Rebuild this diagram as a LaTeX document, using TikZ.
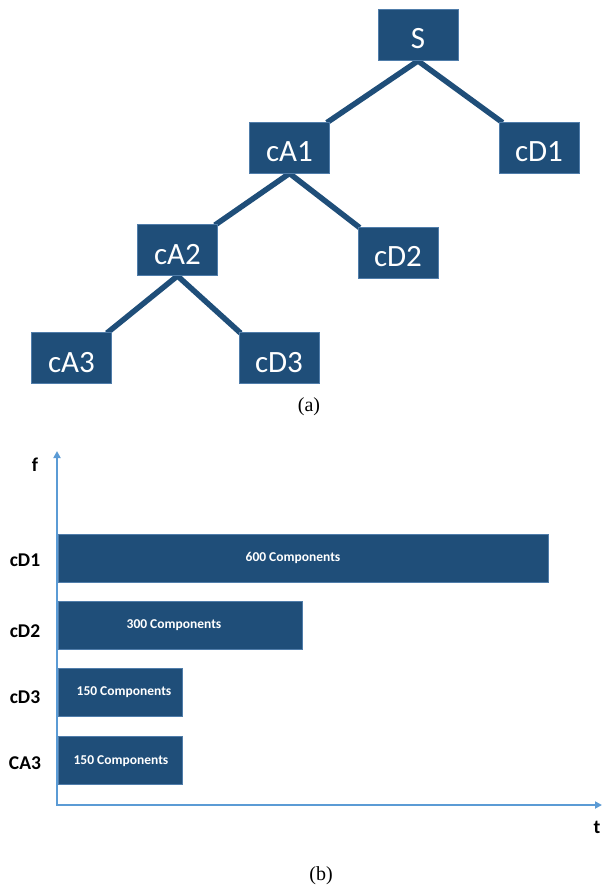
\documentclass[tikz,border=0pt]{standalone}
\usepackage{fontspec}
\setmainfont{Carlito}
\newfontfamily\capfont{Liberation Serif}
\usetikzlibrary{arrows.meta,backgrounds}
\definecolor{boxblue}{RGB}{31,78,121}
\definecolor{boxedge}{RGB}{80,125,170}
\definecolor{axisblue}{RGB}{91,155,213}
\tikzset{
  treebox/.style={rectangle, fill=boxblue, draw=boxedge, line width=0.8pt,
    minimum width=80pt, minimum height=51pt, inner sep=0pt, text=white,
    text height=28pt, text depth=0pt, font=\fontsize{31}{31}\selectfont},
  treeedge/.style={draw=boxblue, line width=5.5pt},
  barbox/.style={rectangle, fill=boxblue, draw=boxedge, line width=0.8pt,
    minimum height=48pt, inner sep=0pt, anchor=west},
  bartext/.style={text=white, font=\bfseries\fontsize{13.5}{13.5}\selectfont, inner sep=0pt},
  axislabel/.style={text=black, font=\bfseries\fontsize{19.5}{19.5}\selectfont, inner sep=0pt},
  axisline/.style={draw=axisblue, line width=2.8pt, line join=miter},
  caption/.style={font=\capfont\fontsize{20}{20}\selectfont, inner sep=0pt}
}
\begin{document}
\begin{tikzpicture}[x=1pt,y=-1pt]
\useasboundingbox (0,0) rectangle (602,888);
% tree
\node[treebox] (S)   at (418,35)    {S};
\node[treebox] (cA1) at (289.5,147.5) {cA1};
\node[treebox] (cD1) at (539,147.5) {cD1};
\node[treebox] (cA2) at (177.5,250) {cA2};
\node[treebox] (cD2) at (398,252.5) {cD2};
\node[treebox] (cA3) at (71.5,358)  {cA3};
\node[treebox] (cD3) at (279,358)   {cD3};
\begin{scope}[on background layer]
\draw[treeedge] (S.south) -- ([xshift=-3pt,yshift=-1pt]cA1.north east);
\draw[treeedge] (S.south) -- ([xshift=4pt,yshift=-1pt]cD1.north west);
\draw[treeedge] (cA1.south) -- ([xshift=-3pt,yshift=-1pt]cA2.north east);
\draw[treeedge] (cA1.south) -- ([xshift=2pt,yshift=-1pt]cD2.north west);
\draw[treeedge] (cA2.south) -- ([xshift=-5pt,yshift=-1pt]cA3.north east);
\draw[treeedge] (cA2.south) -- ([xshift=2pt,yshift=-1pt]cD3.north west);
\end{scope}
\node[caption] (capa) at (309,407) {(a)};
% chart
\coordinate (O) at (57,805);
\coordinate (ytop) at (57,451);
\coordinate (xend) at (602,805);
\draw[axisline,{Triangle[length=7pt,width=7pt]}-{Triangle[length=7pt,width=7pt]}] (ytop) -- (O) -- (xend);
\node[barbox, minimum width=490pt] (b1) at (58,558.5) {};
\node[barbox, minimum width=244pt] (b2) at (58,625.5) {};
\node[barbox, minimum width=124pt] (b3) at (58,692.5) {};
\node[barbox, minimum width=124pt] (b4) at (58,760.5) {};
\node[bartext] (t1) at (293,558) {600 Components};
\node[bartext] (t2) at (174,625) {300 Components};
\node[bartext] (t3) at (124,692) {150 Components};
\node[bartext] (t4) at (121,761) {150 Components};
\node[axislabel] (l1) at (25,560) {cD1};
\node[axislabel] (l2) at (25,631) {cD2};
\node[axislabel] (l3) at (25,697) {cD3};
\node[axislabel] (l4) at (25,763) {CA3};
\node[axislabel] (f) at (35,465) {f};
\node[axislabel] (t) at (597,827) {t};
\node[caption] (capb) at (321,876) {(b)};
\end{tikzpicture}
\end{document}
